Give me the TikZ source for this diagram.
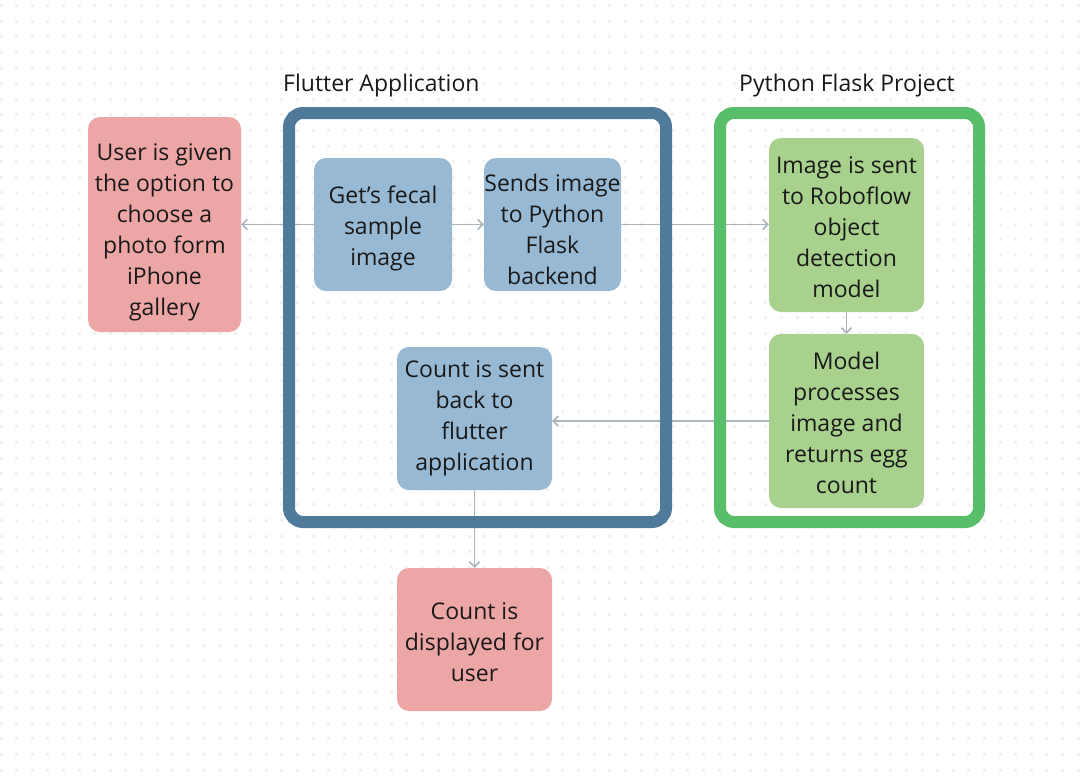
\documentclass[tikz,border=0pt]{standalone}
\usepackage{fontspec}
\setmainfont{Open Sans}
\usetikzlibrary{arrows.meta}
\definecolor{flutterc}{RGB}{80,122,153}
\definecolor{pythonc}{RGB}{88,190,106}
\definecolor{bluebox}{RGB}{152,185,211}
\definecolor{greenbox}{RGB}{168,209,141}
\definecolor{pinkbox}{RGB}{236,166,165}
\definecolor{arrowc}{RGB}{170,180,189}
\definecolor{dotc}{RGB}{240,240,240}
\definecolor{txt}{RGB}{25,25,25}
\newcommand\txtdown[1]{\rule{0pt}{\dimexpr 18pt+#1*2\relax}}
\tikzset{
  box/.style={rounded corners=12pt, inner sep=0pt, align=center, text=txt,
    font=\fontsize{23}{31}\selectfont},
  bluenode/.style={box, fill=bluebox},
  greennode/.style={box, fill=greenbox},
  pinknode/.style={box, fill=pinkbox},
  frame/.style={line width=12pt, rounded corners=14pt},
  arr/.style={draw=arrowc, line width=1.5pt, -{Straight Barb[length=5pt,width=10pt]}},
  title/.style={text=txt, font=\fontsize{23}{28}\selectfont, inner sep=0pt}
}
\begin{document}
\begin{tikzpicture}[x=1pt,y=-1pt]
\useasboundingbox (0,0) rectangle (1092,784);
\fill[white] (0,0) rectangle (1092,784);
% dot grid
\foreach \i in {0,...,69}{
  \foreach \j in {0,...,49}{
    \fill[dotc] ({1+15.61*\i-1.5},{5.7+15.6*\j-1.5}) rectangle ++(3,3);
  }
}
% nodes
\node[pinknode, minimum width=153pt, minimum height=215pt] (user) at (164.5,224.5)
  {\txtdown{7pt}User is given\\the option to\\choose a\\photo form\\iPhone\\gallery};
\node[bluenode, minimum width=138pt, minimum height=133pt] (gets) at (383,224.5)
  {\txtdown{4pt}Get’s fecal\\sample\\image};
\node[bluenode, minimum width=137pt, minimum height=133pt] (sends) at (552.5,224.5)
  {\txtdown{5pt}Sends image\\to Python\\Flask\\backend};
\node[greennode, minimum width=155pt, minimum height=174pt] (img) at (846.5,225)
  {\txtdown{2pt}Image is sent\\to Roboflow\\object\\detection\\model};
\node[greennode, minimum width=155pt, minimum height=174pt] (model) at (846.5,421)
  {\txtdown{2pt}Model\\processes\\image and\\returns egg\\count};
\node[bluenode, minimum width=155pt, minimum height=143pt] (countb) at (474.5,418.5)
  {Count is sent\\back to\\flutter\\application};
\node[pinknode, minimum width=155pt, minimum height=143pt] (disp) at (474.5,639.5)
  {\txtdown{2pt}Count is\\displayed for\\user};
% connectors
\draw[arr] (gets.west) -- (user.east);
\draw[arr] (gets.east) -- (sends.west);
\draw[arr] (sends.east) -- (img.west |- sends.east);
\draw[arr] (img.south) -- (model.north);
\draw[arr] (model.west) -- (countb.east |- model.west);
\draw[arr] (countb.south) -- (disp.north);
% frames
\draw[frame, draw=flutterc] (289,113) rectangle (666,522);
\draw[frame, draw=pythonc] (720,113) rectangle (979,522);
% titles
\node[title, anchor=west] (ftitle) at (283,86) {Flutter Application};
\node[title] (ptitle) at (847,86) {Python Flask Project};
\end{tikzpicture}
\end{document}
